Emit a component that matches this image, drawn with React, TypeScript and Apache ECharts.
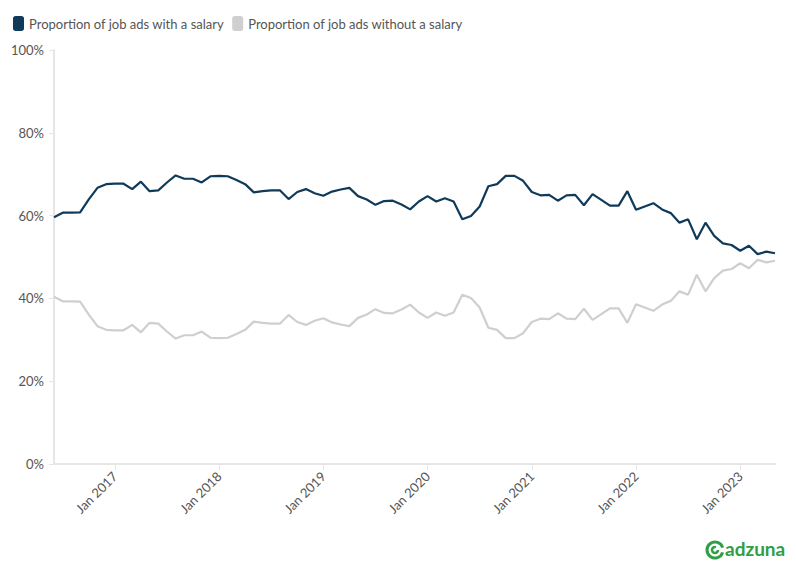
import React, { useEffect, useRef } from "react";
import * as echarts from "echarts";

const MONTHS = ["Jan","Feb","Mar","Apr","May","Jun","Jul","Aug","Sep","Oct","Nov","Dec"];
const START_YEAR = 2016;
const START_MONTH = 5; // Jun
const withSalary = [
  59.6,60.7,60.7,60.8,63.9,66.7,67.6,67.7,67.7,66.4,68.2,65.9,66.1,68.0,69.7,68.9,68.9,68.0,69.5,69.6,69.5,68.6,
  67.6,65.6,65.9,66.1,66.1,64.0,65.7,66.4,65.4,64.8,65.8,66.3,66.7,64.7,63.9,62.6,63.5,63.6,62.7,61.5,63.4,
  64.7,63.4,64.2,63.4,59.1,59.9,62.2,67.1,67.6,69.6,69.6,68.4,65.7,64.9,65.0,63.6,64.9,65.0,62.5,65.2,63.8,
  62.4,62.4,65.9,61.4,62.2,63.0,61.5,60.6,58.3,59.1,54.3,58.3,55.1,53.3,52.9,51.5,52.7,50.7,51.3,50.9
];
const withoutSalary = [
  40.4,39.3,39.3,39.2,36.1,33.3,32.4,32.3,32.3,33.6,31.8,34.1,33.9,32.0,30.3,31.1,31.1,32.0,30.5,30.4,30.5,31.4,
  32.4,34.4,34.1,33.9,33.9,36.0,34.3,33.6,34.6,35.2,34.2,33.7,33.3,35.3,36.1,37.4,36.5,36.4,37.3,38.5,36.6,
  35.3,36.6,35.8,36.6,40.9,40.1,37.8,32.9,32.4,30.4,30.4,31.6,34.3,35.1,35.0,36.4,35.1,35.0,37.5,34.8,36.2,
  37.6,37.6,34.1,38.6,37.8,37.0,38.5,39.4,41.7,40.9,45.7,41.7,44.9,46.7,47.1,48.5,47.3,49.3,48.7,49.1
];
const SERIES_NAMES = ["Proportion of job ads with a salary", "Proportion of job ads without a salary"];
const Y_TICKS = [0, 20, 40, 60, 80, 100];

const categories = withSalary.map((_, i) => {
  const m = START_MONTH + i;
  return `${MONTHS[m % 12]} ${START_YEAR + Math.floor(m / 12)}`;
});

const FONT = "Lato, 'Source Sans Pro', 'Noto Sans', sans-serif";

export default function App() {
  const ref = useRef<HTMLDivElement>(null);
  useEffect(() => {
    const chart = echarts.init(ref.current!, null, { renderer: "svg" });
    chart.setOption({
      animation: false,
      textStyle: { fontFamily: FONT },
      legend: {
        left: 0, top: 3, itemWidth: 11, itemHeight: 15, itemGap: 8,
        icon: "roundRect",
        textStyle: { fontSize: 13, color: "#555", fontFamily: FONT },
        data: SERIES_NAMES,
      },
      grid: { left: 45, right: 13, top: 42, bottom: 103, containLabel: false },
      xAxis: {
        type: "category", data: categories, boundaryGap: false,
        axisLine: { lineStyle: { color: "#e6e6e6", width: 2 } },
        axisTick: { interval: (i: number, v: string) => v.startsWith("Jan"), lineStyle: { color: "#e6e6e6" }, length: 6 },
        axisLabel: {
          interval: (i: number, v: string) => v.startsWith("Jan"),
          rotate: 45, color: "#555", fontSize: 13, fontFamily: FONT, margin: 10,
        },
        splitLine: { show: false },
      },
      yAxis: {
        type: "value", min: 0, max: 100, interval: 20,
        axisLine: { show: true, lineStyle: { color: "#e6e6e6", width: 2 } },
        axisTick: { show: true, length: 5, lineStyle: { color: "#e6e6e6" } },
        axisLabel: {
          color: "#555", fontSize: 13, fontFamily: FONT, margin: 10,
          formatter: (v: number) => (Y_TICKS.includes(v) ? `${v}%` : ""),
        },
        splitLine: { show: false },
      },
      series: [
        { name: SERIES_NAMES[0], type: "line", data: withSalary, symbol: "none", color: "#0f3a5a", lineStyle: { width: 2.2 } },
        { name: SERIES_NAMES[1], type: "line", data: withoutSalary, symbol: "none", color: "#cfcfcf", lineStyle: { width: 2.2 } },
      ],
      graphic: [
        { type: "arc", shape: { cx: 707, cy: 542, r: 8, startAngle: 0.3, endAngle: Math.PI * 2 - 0.3 }, style: { stroke: "#2f9e44", lineWidth: 3, fill: "none" } },
        { type: "arc", shape: { cx: 707, cy: 542, r: 3, startAngle: 0, endAngle: Math.PI * 1.6 }, style: { stroke: "#2f9e44", lineWidth: 2.5, fill: "none" } },
        { type: "text", left: 717, top: 531, style: { text: "adzuna", fill: "#2f9e44", font: `bold 19px ${FONT}` } },
      ],
    });
    return () => chart.dispose();
  }, []);
  return <div ref={ref} style={{ width: 780, height: 559 }} />;
}
